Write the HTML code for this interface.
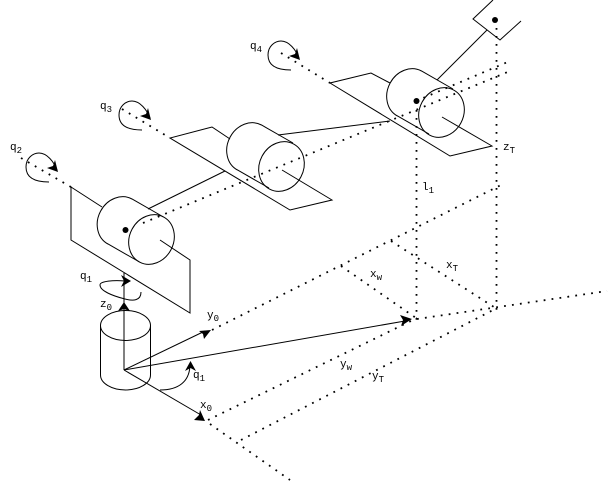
<!DOCTYPE html>
<html><head><meta charset="utf-8"><style>
html,body{margin:0;padding:0;background:#fff;width:613px;height:483px;overflow:hidden}
svg{display:block}
.l{fill:none;stroke:#000;stroke-width:1}
.d{fill:none;stroke:#000;stroke-width:1.8;stroke-dasharray:1.8 6.2}
text{font-family:"Liberation Mono",monospace;font-size:11px;fill:#000}
.s{font-size:9px}
</style></head><body>
<svg width="613" height="483" viewBox="0 0 613 483">
<!-- dotted lines -->
<g class="d">
<path d="M21 158L71 187"/>
<path d="M122 109L170 138"/>
<path d="M281 53L330 83"/>
<path d="M143 223L510 71"/>
<path d="M416 101L510 61"/>
<path d="M416.500 102V320"/>
<path d="M496.500 28V310"/>
<path d="M212 330L505 183"/>
<path d="M208 420L417 318"/>
<path d="M417 319L607 291"/>
<path d="M241 440L497 308"/>
<path d="M210 424L290 480"/>
<path d="M341 266L416 318"/>
<path d="M391 241L497 309"/>
</g>
<!-- plates -->
<path class="l" d="M102 207L71 187V240L190 313V260L160 240"/>
<path class="l" d="M230 139L212 127L170 138L290 210L332 200L282 170"/>
<path class="l" d="M390 83L371 73L330 83L450 156L492 146L442 117"/>
<!-- links -->
<path class="l" d="M148 209L225 171"/>
<path class="l" d="M278 135L390 121"/>
<path class="l" d="M437 80L487 30"/>
<path class="l" d="M493 0L473 19L500 40L521 21"/>
<!-- cylinder 1 -->
<path class="l" d="M163.500 217L132 199A25.500 22 -62 0 0 108 244L139.500 262"/>
<ellipse class="l" cx="151.500" cy="239.500" rx="25.500" ry="22" transform="rotate(-62 151.500 239.500)"/>
<!-- cylinder 2 -->
<path class="l" d="M293 143L261.500 125A25.500 22 -62 0 0 237.500 170L269 188"/>
<ellipse class="l" cx="281.500" cy="166.500" rx="25.500" ry="22" transform="rotate(-62 281.500 166.500)"/>
<!-- cylinder 3 -->
<path class="l" d="M453 89L421.500 71A25.500 22 -62 0 0 397.500 116L429 134"/>
<ellipse class="l" cx="441.500" cy="112.500" rx="25.500" ry="22" transform="rotate(-62 441.500 112.500)"/>
<!-- centre points -->
<circle cx="125.500" cy="230" r="3"/>
<circle cx="416.500" cy="101" r="3"/>
<circle cx="495" cy="20" r="3"/>
<!-- base cylinder -->
<ellipse class="l" cx="125.500" cy="325.500" rx="25" ry="15"/>
<path class="l" d="M100.500 325.500V375A25 15 0 0 0 150.500 375V325.500"/>
<!-- axes -->
<path class="l" d="M124 273V370"/>
<path class="l" d="M124 370L205 331"/>
<path class="l" d="M124 370L201 415"/>
<path class="l" d="M124 370L405 321"/>
<polygon points="124,302 130,311 124,309 118,311"/>
<polygon points="211,330 204,339 203,334 199,331"/>
<polygon points="205,421 194,420 199,415 200,410"/>
<polygon points="412,319 401,326 403,320 400,315"/>
<!-- rotation marks -->
<path class="l" d="M141 292C141 301 133 301 125 299C113 296 100 291 100 285C100 281 114 280 125 281"/>
<polygon points="131,281 121,287 124,281 121,275"/>
<path class="l" d="M160 390C178 390 190 382 190 364"/>
<polygon points="190.500,361 196,371 190.500,368 185,371"/>
<path class="l" d="M49 182C35 182 26 178 26 167C26 158 33 153 39 153C47 153 54 162 57 170"/>
<polygon points="58,172 47,168 53,166 55,160"/>
<path class="l" d="M142 130C128 130 119 126 119 115C119 106 126 101 132 101C140 101 147 110 150 118"/>
<polygon points="151,120 140,116 146,114 148,108"/>
<path class="l" d="M291 70C277 70 268 66 268 55C268 46 275 41 281 41C289 41 296 50 299 58"/>
<polygon points="300,60 289,56 295,54 297,48"/>
<!-- labels -->
<text x="10" y="150">q<tspan class="s" dy="3">2</tspan></text>
<text x="100" y="109">q<tspan class="s" dy="3">3</tspan></text>
<text x="250" y="49">q<tspan class="s" dy="3">4</tspan></text>
<text x="80" y="279">q<tspan class="s" dy="3">1</tspan></text>
<text x="100" y="307">z<tspan class="s" dy="3">0</tspan></text>
<text x="193" y="378">q<tspan class="s" dy="3">1</tspan></text>
<text x="200" y="408">x<tspan class="s" dy="3">0</tspan></text>
<text x="207" y="318">y<tspan class="s" dy="3">0</tspan></text>
<text x="503" y="150">z<tspan class="s" dy="3">T</tspan></text>
<text x="422" y="190">l<tspan class="s" dy="3">1</tspan></text>
<text x="446" y="268">x<tspan class="s" dy="3">T</tspan></text>
<text x="370" y="277">x<tspan class="s" dy="3">w</tspan></text>
<text x="340" y="367">y<tspan class="s" dy="3">w</tspan></text>
<text x="372" y="379">y<tspan class="s" dy="3">T</tspan></text>
</svg>
</body></html>
